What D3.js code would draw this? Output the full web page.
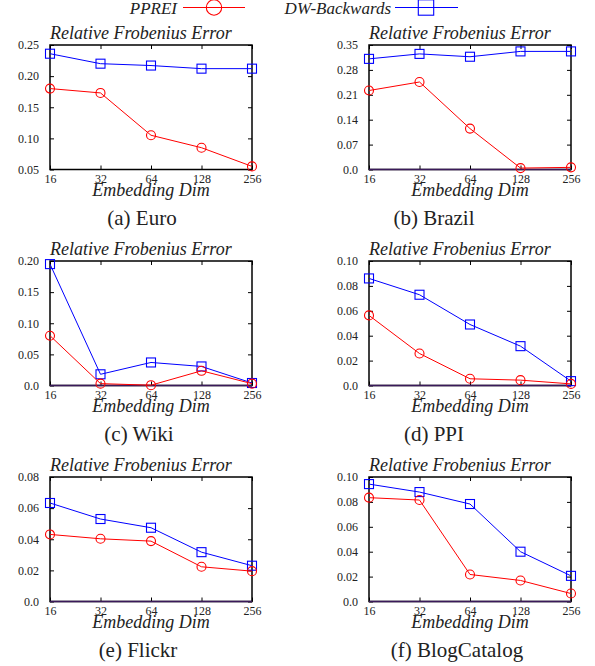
<!DOCTYPE html>
<html><head><meta charset="utf-8">
<script src="https://cdn.jsdelivr.net/npm/d3@7/dist/d3.min.js"></script>
<style>
html,body{margin:0;padding:0;background:#fff;}
svg{display:block;}
svg text{font-family:"Liberation Serif","Times New Roman",Times,"DejaVu Serif",serif;}
</style></head>
<body>
<svg id="chart" width="595" height="666"></svg>
<script>
// ---- data ----
const dims = [16, 32, 64, 128, 256];
const dimLabels = ["16", "32", "64", "128", "256"];
const seriesNames = ["PPREI", "DW-Backwards"];
const yAxisTitle = "Relative Frobenius Error";
const xAxisTitle = "Embedding Dim";
const captions = ["(a) Euro", "(b) Brazil", "(c) Wiki", "(d) PPI", "(e) Flickr", "(f) BlogCatalog"];

const ppreiEuro = [0.180, 0.173, 0.105, 0.085, 0.055];
const dwEuro = [0.236, 0.220, 0.217, 0.212, 0.212];
const ppreiBrazil = [0.222, 0.246, 0.115, 0.004, 0.006];
const dwBrazil = [0.311, 0.325, 0.317, 0.332, 0.332];
const ppreiWiki = [0.080, 0.003, 0.0005, 0.0236, 0.003];
const dwWiki = [0.195, 0.018, 0.037, 0.0306, 0.004];
const ppreiPPI = [0.0563, 0.0257, 0.0054, 0.0043, 0.0013];
const dwPPI = [0.086, 0.0729, 0.049, 0.0316, 0.0035];
const ppreiFlickr = [0.0431, 0.0403, 0.0388, 0.0223, 0.0195];
const dwFlickr = [0.0633, 0.053, 0.0474, 0.0317, 0.023];
const ppreiBlog = [0.0834, 0.0815, 0.0217, 0.0169, 0.0064];
const dwBlog = [0.0943, 0.0879, 0.0783, 0.040, 0.0206];

const yDomains = [[0.05, 0.25], [0, 0.35], [0, 0.20], [0, 0.10], [0, 0.08], [0, 0.10]];
const yTicksEuro = [0.05, 0.10, 0.15, 0.20, 0.25];
const yTickLabelsEuro = ["0.05", "0.10", "0.15", "0.20", "0.25"];
const yTicksBrazil = [0, 0.07, 0.14, 0.21, 0.28, 0.35];
const yTickLabelsBrazil = ["0.0", "0.07", "0.14", "0.21", "0.28", "0.35"];
const yTicksWiki = [0, 0.05, 0.10, 0.15, 0.20];
const yTickLabelsWiki = ["0.0", "0.05", "0.10", "0.15", "0.20"];
const yTicksPPI = [0, 0.02, 0.04, 0.06, 0.08, 0.10];
const yTickLabelsPPI = ["0.0", "0.02", "0.04", "0.06", "0.08", "0.10"];
const yTicksFlickr = [0, 0.02, 0.04, 0.06, 0.08];
const yTickLabelsFlickr = ["0.0", "0.02", "0.04", "0.06", "0.08"];
const yTicksBlog = [0, 0.02, 0.04, 0.06, 0.08, 0.10];
const yTickLabelsBlog = ["0.0", "0.02", "0.04", "0.06", "0.08", "0.10"];

// ---- layout ----
const FONT = '"Liberation Serif","Times New Roman",Times,"DejaVu Serif",serif';
const colors = ["#ff0000", "#0000ff"];
const colX = [50, 369];
const rowY = [45, 261, 477];
const W = 202, H = 124.5;
const captionX = [142, 434, 139, 434, 138, 457];

const panels = [
  {p: ppreiEuro, d: dwEuro, ticks: yTicksEuro, labels: yTickLabelsEuro},
  {p: ppreiBrazil, d: dwBrazil, ticks: yTicksBrazil, labels: yTickLabelsBrazil},
  {p: ppreiWiki, d: dwWiki, ticks: yTicksWiki, labels: yTickLabelsWiki},
  {p: ppreiPPI, d: dwPPI, ticks: yTicksPPI, labels: yTickLabelsPPI},
  {p: ppreiFlickr, d: dwFlickr, ticks: yTicksFlickr, labels: yTickLabelsFlickr},
  {p: ppreiBlog, d: dwBlog, ticks: yTicksBlog, labels: yTickLabelsBlog}
];

const svg = d3.select("#chart");

function marker(g, type, x, y, size, color) {
  if (type === 0) {
    g.append("circle").attr("cx", x).attr("cy", y).attr("r", size)
      .attr("fill", "none").attr("stroke", color).attr("stroke-width", 1.1);
  } else {
    g.append("rect").attr("x", x - size).attr("y", y - size)
      .attr("width", 2 * size).attr("height", 2 * size)
      .attr("fill", "none").attr("stroke", color).attr("stroke-width", 1.1);
  }
}

panels.forEach((pn, i) => {
  const ox = colX[i % 2], oy = rowY[Math.floor(i / 2)];
  const g = svg.append("g").attr("transform", `translate(${ox},${oy})`);
  const x = d3.scaleLog().base(2).domain([16, 256]).range([0, W]);
  const y = d3.scaleLinear().domain(yDomains[i]).range([H, 0]);

  const yl = g.append("g").call(d3.axisLeft(y).tickValues(pn.ticks)
      .tickFormat((d, k) => pn.labels[k]).tickSize(-4).tickPadding(11));
  yl.attr("font-family", FONT);
  yl.select(".domain").remove();
  yl.selectAll("text").attr("font-size", 12).attr("fill", "#222");
  yl.selectAll("line").attr("stroke", "#000");
  const yr = g.append("g").attr("transform", `translate(${W},0)`)
    .call(d3.axisRight(y).tickValues(pn.ticks).tickSize(-4).tickFormat(""));
  yr.select(".domain").remove();
  const xb = g.append("g").attr("transform", `translate(0,${H})`)
    .call(d3.axisBottom(x).tickValues(dims).tickFormat((d, k) => dimLabels[k]).tickSize(-4).tickPadding(4.5));
  xb.attr("font-family", FONT);
  xb.select(".domain").remove();
  xb.selectAll("text").attr("font-size", 12).attr("fill", "#222");
  const xt = g.append("g").call(d3.axisTop(x).tickValues(dims).tickSize(-4).tickFormat(""));
  xt.select(".domain").remove();

  g.append("rect").attr("x", 0).attr("y", 0).attr("width", W).attr("height", H)
    .attr("fill", "none").attr("stroke", "#000").attr("stroke-width", 1.5);
  if (yDomains[i][0] === 0) {
    g.append("line").attr("x1", 0).attr("x2", W).attr("y1", y(0)).attr("y2", y(0))
      .attr("stroke", "#3a1a5a").attr("stroke-width", 1.5);
  }

  [pn.d, pn.p].forEach((vals, si) => {
    const sIdx = si === 0 ? 1 : 0;
    const line = d3.line().x((d, k) => x(dims[k])).y(d => y(d));
    g.append("path").attr("d", line(vals)).attr("fill", "none")
      .attr("stroke", colors[sIdx]).attr("stroke-width", 1);
    vals.forEach((v, k) => marker(g, sIdx, x(dims[k]), y(v), 4.5, colors[sIdx]));
  });

  g.append("text").attr("x", 0).attr("y", -6).attr("font-size", 18).attr("font-style", "italic")
    .attr("fill", "#222").text(yAxisTitle);
  g.append("text").attr("x", W / 2).attr("y", H + 26).attr("text-anchor", "middle")
    .attr("font-size", 18).attr("font-style", "italic").attr("fill", "#222").text(xAxisTitle);
  svg.append("text").attr("x", captionX[i]).attr("y", oy + H + 55).attr("text-anchor", "middle")
    .attr("font-size", 21).attr("fill", "#222").text(captions[i]);
});

const lg = svg.append("g");
const legendLayout = [{textEnd: 177, x1: 183, x2: 245, mx: 214}, {textEnd: 391, x1: 395, x2: 458, mx: 426}];
seriesNames.forEach((name, si) => {
  const L = legendLayout[si];
  lg.append("text").attr("x", L.textEnd).attr("y", 14).attr("text-anchor", "end")
    .attr("font-size", 17).attr("font-style", "italic").attr("fill", "#222").text(name);
  lg.append("line").attr("x1", L.x1).attr("x2", L.x2).attr("y1", 7.5).attr("y2", 7.5)
    .attr("stroke", colors[si]).attr("stroke-width", 1.1);
  marker(lg, si, L.mx, 7.5, 7.7, colors[si]);
});
</script>
</body></html>
